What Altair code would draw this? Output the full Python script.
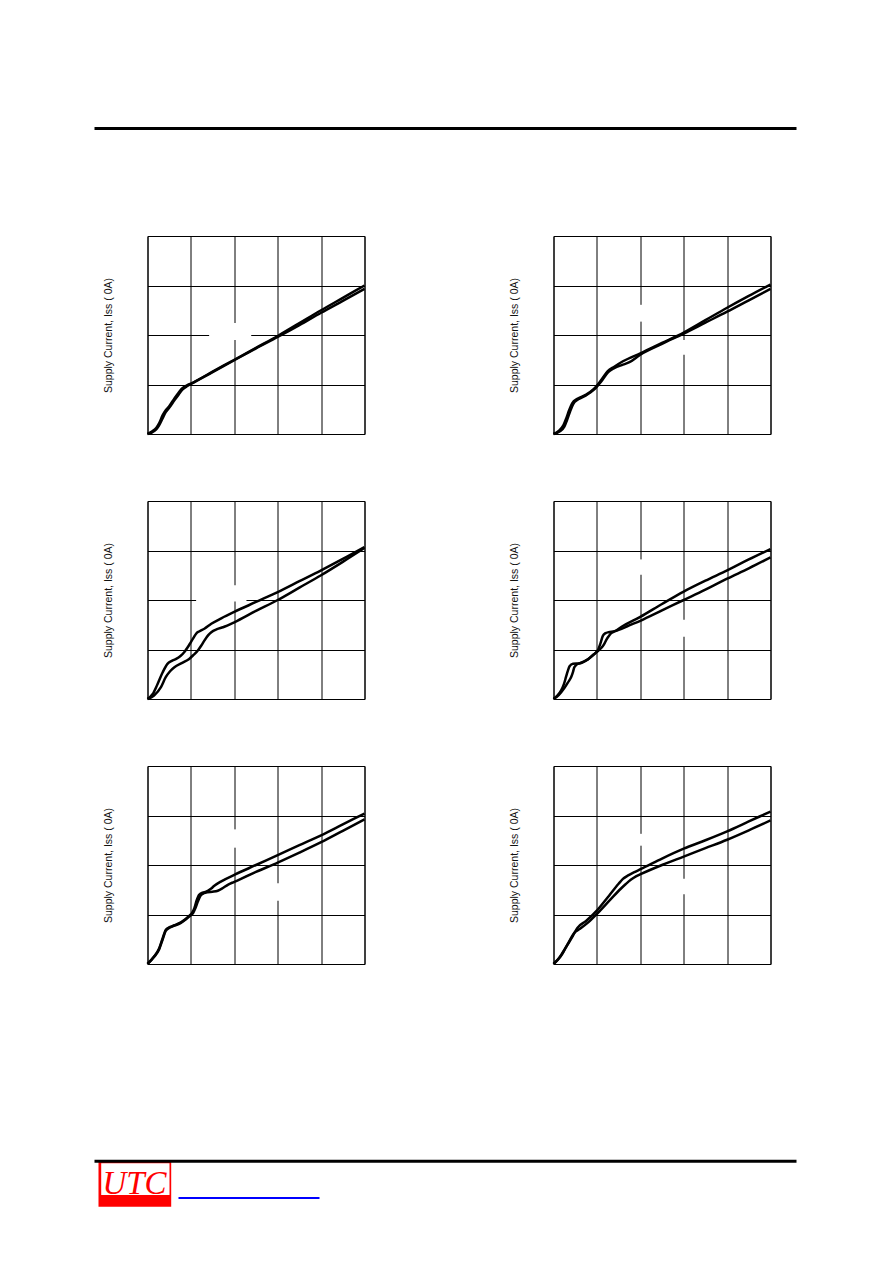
import altair as alt
import pandas as pd

Y_TITLE = "Supply Current, Iss ( 0A)"
X_TICKS = [0, 1, 2, 3, 4, 5]
Y_TICKS = [0, 1, 2, 3, 4]

# ---- panel 1 (top-left) ----
p1_a_x = [0, 0.1, 0.2, 0.27, 0.35, 0.42, 0.5, 0.62, 0.72, 0.81, 0.9, 1.0, 1.5, 2.0, 2.5, 3.0, 3.5, 4.0, 4.5, 5.0]
p1_a_y = [0, 0.05, 0.12, 0.22, 0.38, 0.48, 0.56, 0.72, 0.84, 0.93, 0.98, 1.02, 1.26, 1.5, 1.74, 1.98, 2.24, 2.5, 2.75, 3.0]
p1_b_x = [0, 0.1, 0.2, 0.27, 0.35, 0.42, 0.5, 0.62, 0.72, 0.81, 0.9, 1.0, 1.5, 2.0, 2.5, 3.0, 3.5, 4.0, 4.5, 5.0]
p1_b_y = [0, 0.03, 0.09, 0.18, 0.32, 0.44, 0.53, 0.68, 0.8, 0.9, 0.96, 1.01, 1.25, 1.49, 1.73, 1.96, 2.2, 2.45, 2.69, 2.93]
p1_boxes = [(1.42, 2.39, 1.9, 2.24)]

# ---- panel 2 (top-right) ----
p2_a_x = [0, 0.12, 0.23, 0.3, 0.36, 0.43, 0.55, 0.74, 0.93, 1.09, 1.25, 1.4, 1.6, 2.0, 2.5, 3.0, 3.5, 4.0, 4.5, 5.0]
p2_a_y = [0, 0.06, 0.18, 0.33, 0.48, 0.62, 0.71, 0.79, 0.91, 1.08, 1.27, 1.36, 1.47, 1.63, 1.84, 2.05, 2.3, 2.55, 2.79, 3.02]
p2_b_x = [0, 0.14, 0.25, 0.32, 0.38, 0.45, 0.57, 0.75, 0.94, 1.1, 1.26, 1.4, 1.6, 1.75, 2.0, 2.5, 3.0, 3.5, 4.0, 4.5, 5.0]
p2_b_y = [0, 0.05, 0.15, 0.3, 0.45, 0.6, 0.7, 0.78, 0.9, 1.06, 1.25, 1.33, 1.4, 1.45, 1.6, 1.82, 2.03, 2.25, 2.47, 2.7, 2.93]
p2_boxes = [(1.88, 2.12, 2.27, 2.61), (2.88, 3.12, 1.6, 1.9)]

# ---- panel 3 (middle-left) ----
p3_a_x = [0, 0.12, 0.23, 0.35, 0.46, 0.56, 0.66, 0.76, 0.85, 0.93, 1.0, 1.07, 1.12, 1.2, 1.31, 1.47, 1.7, 2.0, 2.5, 3.0, 3.5, 4.0, 4.5, 5.0]
p3_a_y = [0, 0.1, 0.3, 0.54, 0.71, 0.77, 0.81, 0.87, 0.95, 1.05, 1.15, 1.25, 1.32, 1.37, 1.42, 1.52, 1.63, 1.76, 1.96, 2.16, 2.38, 2.6, 2.83, 3.07]
p3_b_x = [0, 0.15, 0.31, 0.42, 0.52, 0.62, 0.8, 0.96, 1.06, 1.16, 1.24, 1.31, 1.4, 1.47, 1.6, 1.74, 2.0, 2.5, 3.0, 3.5, 4.0, 4.5, 5.0]
p3_b_y = [0, 0.07, 0.24, 0.44, 0.56, 0.64, 0.73, 0.81, 0.89, 0.98, 1.08, 1.18, 1.29, 1.35, 1.41, 1.45, 1.55, 1.78, 2.0, 2.25, 2.5, 2.77, 3.05]
p3_boxes = [(1.12, 2.28, 1.97, 2.3)]

# ---- panel 4 (middle-right) ----
p4_a_x = [0, 0.1, 0.18, 0.24, 0.29, 0.33, 0.37, 0.45, 0.6, 0.79, 0.9, 0.98, 1.03, 1.08, 1.14, 1.2, 1.27, 1.41, 1.57, 2.0, 2.5, 3.0, 3.5, 4.0, 4.5, 5.0]
p4_a_y = [0, 0.08, 0.18, 0.3, 0.45, 0.57, 0.66, 0.71, 0.72, 0.8, 0.88, 0.94, 1.0, 1.12, 1.28, 1.33, 1.35, 1.37, 1.46, 1.66, 1.92, 2.17, 2.39, 2.6, 2.82, 3.03]
p4_b_x = [0, 0.12, 0.25, 0.33, 0.41, 0.45, 0.48, 0.54, 0.6, 0.79, 0.98, 1.1, 1.16, 1.22, 1.28, 1.33, 1.42, 1.52, 1.7, 2.0, 2.5, 3.0, 3.5, 4.0, 4.5, 5.0]
p4_b_y = [0, 0.08, 0.22, 0.33, 0.45, 0.55, 0.64, 0.7, 0.72, 0.8, 0.94, 1.03, 1.1, 1.2, 1.28, 1.33, 1.37, 1.4, 1.47, 1.58, 1.79, 2.0, 2.21, 2.43, 2.64, 2.86]
p4_boxes = [(1.88, 2.12, 2.51, 2.82), (2.88, 3.12, 1.26, 1.6)]

# ---- panel 5 (bottom-left) ----
p5_a_x = [0, 0.15, 0.27, 0.35, 0.42, 0.5, 0.58, 0.77, 0.96, 1.03, 1.08, 1.13, 1.19, 1.27, 1.35, 1.46, 1.54, 1.7, 2.0, 2.5, 3.0, 3.5, 4.0, 4.5, 5.0]
p5_a_y = [0, 0.15, 0.32, 0.52, 0.69, 0.74, 0.77, 0.84, 0.97, 1.04, 1.13, 1.28, 1.4, 1.44, 1.46, 1.52, 1.58, 1.67, 1.8, 2.0, 2.2, 2.4, 2.6, 2.82, 3.04]
p5_b_x = [0, 0.15, 0.27, 0.35, 0.42, 0.5, 0.58, 0.77, 0.96, 1.05, 1.1, 1.16, 1.22, 1.3, 1.38, 1.5, 1.62, 1.73, 1.85, 2.0, 2.5, 3.0, 3.5, 4.0, 4.5, 5.0]
p5_b_y = [0, 0.14, 0.3, 0.5, 0.67, 0.73, 0.76, 0.83, 0.96, 1.03, 1.12, 1.26, 1.38, 1.43, 1.45, 1.46, 1.48, 1.53, 1.6, 1.66, 1.86, 2.05, 2.25, 2.46, 2.69, 2.92]
p5_boxes = [(1.88, 2.12, 2.35, 2.72), (2.88, 3.12, 1.28, 1.63)]

# ---- panel 6 (bottom-right) ----
p6_a_x = [0, 0.13, 0.28, 0.44, 0.55, 0.75, 1.02, 1.28, 1.5, 1.6, 1.72, 1.85, 2.02, 2.5, 3.0, 3.5, 4.0, 4.5, 5.0]
p6_a_y = [0, 0.12, 0.33, 0.56, 0.73, 0.87, 1.1, 1.38, 1.62, 1.72, 1.79, 1.85, 1.92, 2.13, 2.33, 2.5, 2.68, 2.88, 3.08]
p6_b_x = [0, 0.17, 0.32, 0.48, 0.59, 0.8, 1.02, 1.32, 1.55, 1.66, 1.78, 1.9, 2.02, 2.5, 3.0, 3.5, 4.0, 4.5, 5.0]
p6_b_y = [0, 0.16, 0.39, 0.63, 0.7, 0.84, 1.03, 1.31, 1.52, 1.61, 1.7, 1.77, 1.82, 2.0, 2.17, 2.34, 2.51, 2.7, 2.9]
p6_boxes = [(1.88, 2.12, 2.39, 2.63), (2.88, 3.12, 1.41, 1.72)]

PANEL_W, PANEL_H = 217, 198
NOSTROKE = alt.ViewBackground(stroke="transparent", strokeWidth=0)


def panel(curves, boxes):
    rows = []
    for sid, (xs, ys) in enumerate(curves):
        for i, (x, y) in enumerate(zip(xs, ys)):
            rows.append({"s": sid, "x": x, "y": y, "o": i})
    df = pd.DataFrame(rows)
    bx = pd.DataFrame(boxes, columns=["x1", "x2", "y1", "y2"])
    xsc = alt.Scale(domain=[0, 5], nice=False, zero=False)
    ysc = alt.Scale(domain=[0, 4], nice=False, zero=False)
    xax = alt.Axis(values=X_TICKS, grid=True, gridColor="black", gridWidth=1, gridOpacity=1,
                   labels=False, ticks=False, domain=False, title=None)
    yax = alt.Axis(values=Y_TICKS, grid=True, gridColor="black", gridWidth=1, gridOpacity=1,
                   labels=False, ticks=False, domain=False, title=Y_TITLE,
                   titleFont="Liberation Sans", titleFontSize=10.5, titleFontWeight="normal",
                   titleColor="#111111", titlePadding=34)
    rect = alt.Chart(bx).mark_rect(color="white").encode(
        x=alt.X("x1:Q", scale=xsc, axis=xax), x2="x2:Q",
        y=alt.Y("y1:Q", scale=ysc, axis=yax), y2="y2:Q")
    line = alt.Chart(df).mark_line(color="black", strokeWidth=2.5, interpolate="monotone").encode(
        x=alt.X("x:Q", scale=xsc, axis=xax),
        y=alt.Y("y:Q", scale=ysc, axis=yax),
        detail="s:N", order="o:Q")
    return alt.layer(rect, line).properties(
        width=PANEL_W, height=PANEL_H,
        view=alt.ViewBackground(stroke="black", strokeWidth=1))


one = pd.DataFrame({"v": [0]})


def blank(h, py):
    return alt.Chart(one).mark_point(opacity=0).encode(
        x=alt.value(100), y=alt.value(py)).properties(width=PANEL_W, height=h, view=NOSTROKE)


header = alt.Chart(one).mark_rule(color="black", strokeWidth=3).encode(
    x=alt.value(-53), x2=alt.value(649), y=alt.value(0.5)
).properties(width=PANEL_W, height=41, view=NOSTROKE)

f_red = alt.Chart(one).mark_rect(color="#FF0000").encode(
    x=alt.value(-49), x2=alt.value(23.7), y=alt.value(130), y2=alt.value(175.7))
f_white = alt.Chart(one).mark_rect(color="white").encode(
    x=alt.value(-46.3), x2=alt.value(22), y=alt.value(132.3), y2=alt.value(164))
f_text = alt.Chart(one).mark_text(
    text="UTC", font="Liberation Serif", fontStyle="italic", fontSize=33,
    color="#FF0000", align="center", baseline="alphabetic").encode(x=alt.value(-13), y=alt.value(162.5))
f_rule = alt.Chart(one).mark_rule(color="black", strokeWidth=3).encode(
    x=alt.value(-53), x2=alt.value(649), y=alt.value(130.3))
f_link = alt.Chart(one).mark_rule(color="#0000FF", strokeWidth=2).encode(
    x=alt.value(31), x2=alt.value(172), y=alt.value(167))
footer = alt.layer(f_red, f_white, f_text, f_rule, f_link).properties(
    width=PANEL_W, height=176, view=NOSTROKE)

p1 = panel([(p1_a_x, p1_a_y), (p1_b_x, p1_b_y)], p1_boxes)
p2 = panel([(p2_a_x, p2_a_y), (p2_b_x, p2_b_y)], p2_boxes)
p3 = panel([(p3_a_x, p3_a_y), (p3_b_x, p3_b_y)], p3_boxes)
p4 = panel([(p4_a_x, p4_a_y), (p4_b_x, p4_b_y)], p4_boxes)
p5 = panel([(p5_a_x, p5_a_y), (p5_b_x, p5_b_y)], p5_boxes)
p6 = panel([(p6_a_x, p6_a_y), (p6_b_x, p6_b_y)], p6_boxes)

chart = alt.concat(
    header, blank(41, 20),
    p1, p2,
    p3, p4,
    p5, p6,
    footer, blank(10, 5),
    columns=2, spacing={"row": 67, "column": 189}, bounds="flush", align="each",
).properties(
    padding={"left": 84.5, "top": 119, "right": 10, "bottom": 10},
    background="white",
)

chart.save("out.html", embed_options={"renderer": "svg", "actions": False})
